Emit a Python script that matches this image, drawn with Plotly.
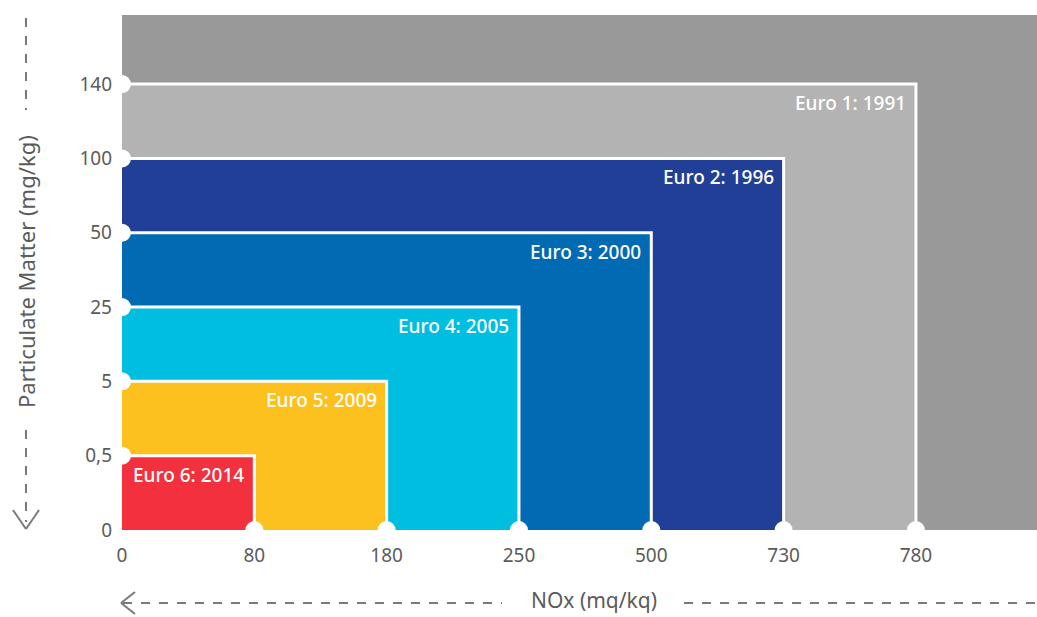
import plotly.graph_objects as go

# Euro emission standards: NOx and particulate matter limits
standards = ["Euro 1", "Euro 2", "Euro 3", "Euro 4", "Euro 5", "Euro 6"]
years = [1991, 1996, 2000, 2005, 2009, 2014]
nox_limits = ["780", "730", "500", "250", "180", "80"]
pm_limits = ["140", "100", "50", "25", "5", "0,5"]
colors = ["#b3b3b3", "#223f97", "#006ab2", "#00bedf", "#fdc11f", "#f3303d"]

x_ticks = ["0", "80", "180", "250", "500", "730", "780"]
y_ticks = ["0", "0,5", "5", "25", "50", "100", "140"]

FONT = "Noto Sans"
TICK_COLOR = "#5b5b5b"
DASH_COLOR = "#7a7a7a"

# Layout geometry (pixels)
W, H = 1037, 617
L, R, T, B = 122, 0, 15, 87
plot_w = W - L - R
plot_h = H - T - B

x_max = 6.915
y_max = 6.93

fig = go.Figure()

# Nested limit boxes, largest first; positions are ordinal tick indices
for name, yr, nx, pm, col in zip(standards, years, nox_limits, pm_limits, colors):
    xi = x_ticks.index(nx)
    yi = y_ticks.index(pm)
    fig.add_trace(go.Scatter(
        x=[0, xi, xi, 0, 0], y=[0, 0, yi, yi, 0],
        fill="toself", fillcolor=col, mode="none",
        hoverinfo="skip", showlegend=False))
    fig.add_trace(go.Scatter(
        x=[0, xi, xi], y=[yi, yi, 0], mode="lines",
        line=dict(color="white", width=3),
        hoverinfo="skip", showlegend=False))
    fig.add_annotation(
        x=xi, y=yi, xref="x", yref="y", text=f"{name}: {yr}",
        showarrow=False, xanchor="right", yanchor="top",
        xshift=-8, yshift=-4,
        font=dict(family=FONT, size=19, color="white", weight=500))

# White notches at each tick position on both axes
fig.add_trace(go.Scatter(
    x=[0] * (len(y_ticks) - 1) + list(range(1, len(x_ticks))),
    y=list(range(1, len(y_ticks))) + [0] * (len(x_ticks) - 1),
    mode="markers", marker=dict(color="white", size=18, line=dict(width=0)),
    cliponaxis=False, hoverinfo="skip", showlegend=False))


def px_x(px):
    return (px - L) / plot_w


def px_y(py):
    return (H - B - py) / plot_h


shapes = []


def seg(x0, y0, x1, y1, dash="dash"):
    shapes.append(dict(type="line", xref="paper", yref="paper",
                       x0=px_x(x0), y0=px_y(y0), x1=px_x(x1), y1=px_y(y1),
                       line=dict(color=DASH_COLOR, width=2, dash=dash)))


# Vertical axis guide: dashed line with downward chevron
seg(26, 18, 26, 110)
seg(26, 430, 26, 522)
seg(13, 510, 26, 529, dash="solid")
seg(39, 510, 26, 529, dash="solid")

# Horizontal axis guide: dashed line with leftward chevron
seg(123, 603, 502, 603)
seg(684, 603, 1037, 603)
seg(135, 592, 121, 603, dash="solid")
seg(135, 614, 121, 603, dash="solid")

fig.add_annotation(xref="paper", yref="paper", x=px_x(26), y=px_y(272),
                   text="Particulate Matter (mg/kg)", textangle=-90,
                   showarrow=False, xanchor="center", yanchor="middle",
                   font=dict(family=FONT, size=22, color=TICK_COLOR))
fig.add_annotation(xref="paper", yref="paper", x=px_x(594), y=px_y(600),
                   text="NOx (mq/kq)", showarrow=False,
                   xanchor="center", yanchor="middle",
                   font=dict(family=FONT, size=21, color=TICK_COLOR))

fig.update_layout(
    width=W, height=H,
    margin=dict(l=L, r=R, t=T, b=B, pad=0),
    paper_bgcolor="white", plot_bgcolor="#999999",
    shapes=shapes,
    xaxis=dict(range=[0, x_max], tickvals=list(range(len(x_ticks))),
               ticktext=x_ticks, showgrid=False, zeroline=False,
               showline=False, ticks="", ticklabelstandoff=12,
               tickfont=dict(family=FONT, size=19, color=TICK_COLOR),
               fixedrange=True),
    yaxis=dict(range=[0, y_max], tickvals=list(range(len(y_ticks))),
               ticktext=y_ticks, showgrid=False, zeroline=False,
               showline=False, ticks="", ticklabelstandoff=9,
               tickfont=dict(family=FONT, size=19, color=TICK_COLOR),
               fixedrange=True),
)

fig.write_html("out.html", config={"displayModeBar": False})
